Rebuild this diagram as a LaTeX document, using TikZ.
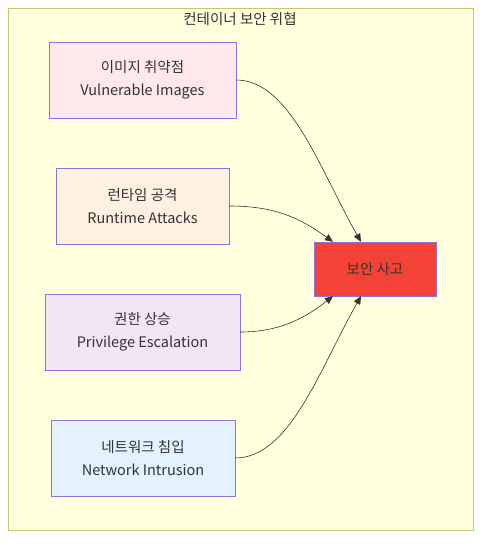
\documentclass[tikz,border=0pt]{standalone}
\usepackage{fontspec}
\setmainfont{Noto Sans CJK KR}
\usetikzlibrary{arrows.meta, positioning, calc}

\definecolor{bgyel}{HTML}{FFFFDE}
\definecolor{bgline}{HTML}{C8C86A}
\definecolor{nline}{HTML}{9370DB}
\definecolor{fpink}{HTML}{FFE8EA}
\definecolor{forange}{HTML}{FFF1E1}
\definecolor{fviolet}{HTML}{F3E5F5}
\definecolor{fblue}{HTML}{E3F2FD}
\definecolor{fred}{HTML}{F44336}
\definecolor{txt}{HTML}{333333}

\begin{document}
\begin{tikzpicture}[x=1pt, y=-1pt,
        threat/.style={draw=nline, minimum height=76pt, align=center, font=\fontsize{14.5}{23}\selectfont, text=txt, inner sep=0pt},
        incident/.style={draw=nline, fill=fred, minimum width=122pt, minimum height=54pt, font=\fontsize{14.5}{16}\selectfont, text=txt},
        e/.style={-{Triangle[length=8pt, width=7pt]}, draw=txt, semithick}]
        \useasboundingbox (0,0) rectangle (489,548);
        \draw[draw=bgline, fill=bgyel, thick] (8,8) rectangle (473,530);
        \node[font=\fontsize{14.5}{16}\selectfont, text=txt] (title) at (240,19) {컨테이너 보안 위협};

        \node[threat, fill=fpink, minimum width=187pt] (img) at (142.5,80) {이미지 취약점\\Vulnerable Images};
        \node[threat, fill=forange, minimum width=173pt] (run) at (142.5,206) {런타임 공격\\Runtime Attacks};
        \node[threat, fill=fviolet, minimum width=195pt] (priv) at (142.5,332) {권한 상승\\Privilege Escalation};
        \node[threat, fill=fblue, minimum width=184pt] (net) at (143,458) {네트워크 침입\\Network Intrusion};

        \node[incident] (inc) at (375,269) {보안 사고};

        \draw[e] (img.east) .. controls (290,80) and (320,170) .. ([xshift=-14pt]inc.north);
        \draw[e] (run.east) .. controls (275,206) and (300,218) .. ([xshift=-42pt]inc.north);
        \draw[e] (priv.east) .. controls (280,332) and (305,318) .. ([xshift=-42pt]inc.south);
        \draw[e] (net.east) .. controls (290,458) and (320,368) .. ([xshift=-14pt]inc.south);
      \end{tikzpicture}
\end{document}
